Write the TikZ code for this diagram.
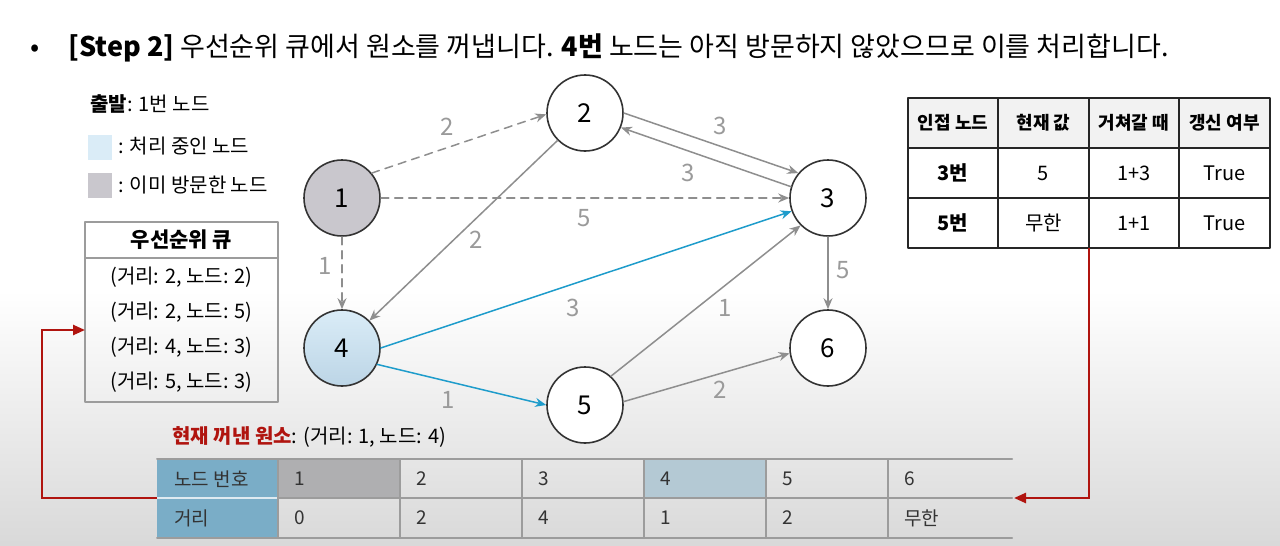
\documentclass[tikz,border=0pt]{standalone}
\usepackage{fontspec}
\setmainfont{Noto Sans CJK KR}
\usetikzlibrary{arrows.meta,positioning}
\definecolor{edgegray}{HTML}{8E8E8E}
\definecolor{labelgray}{HTML}{9A9A9A}
\definecolor{procblue}{HTML}{1E9CCB}
\definecolor{visitgray}{HTML}{C9C7CD}
\definecolor{nowblue}{HTML}{DAECF7}
\definecolor{nowblueb}{HTML}{BCD5E6}
\definecolor{hdrblue}{HTML}{7AADC7}
\definecolor{cellblue}{HTML}{B4C9D4}
\definecolor{cellgray}{HTML}{AFAFB1}
\definecolor{darkred}{HTML}{B0140F}
\definecolor{gridgray}{HTML}{9C9C9C}
\definecolor{textgray}{HTML}{333333}
\begin{document}
\begin{tikzpicture}[
    x=0.5pt, y=-0.5pt,
    line cap=round,
    line join=round,
    vertex/.style={circle, draw=black!80, fill=white, line width=0.8pt, minimum size=38pt, inner sep=0pt, font=\fontsize{13}{13}\selectfont},
    edge/.style={draw=edgegray, line width=0.75pt, -{Stealth[length=5.5pt,width=4.5pt]}},
    dashedge/.style={edge, dash pattern=on 4pt off 3pt},
    hotedge/.style={edge, draw=procblue},
    wlabel/.style={text=labelgray, inner sep=1pt, font=\fontsize{12}{12}\selectfont},
    small/.style={inner sep=1pt, font=\fontsize{10}{12}\selectfont},
    thead/.style={inner sep=1pt, font=\fontsize{9}{11}\selectfont\bfseries},
    tcell/.style={inner sep=1pt, font=\fontsize{10}{12}\selectfont},
    bcell/.style={anchor=west, inner sep=0pt, text=textgray, font=\fontsize{9.5}{11}\selectfont},
    back/.style={draw=darkred, line width=1.2pt, line cap=butt, line join=miter, -{Triangle[length=6pt,width=5pt]}}
]
\useasboundingbox (0,0) rectangle (1280,546);

% background
\fill[white] (0,0) rectangle (1280,546);
\shade[top color=white, bottom color=black!15] (0,290) rectangle (1280,546);

% title
\node[anchor=base west, inner sep=0pt, font=\fontsize{13.5}{15}\selectfont] (bullet) at (30,56) {•};
\node[anchor=base west, inner sep=0pt, font=\fontsize{13.5}{15}\selectfont] (title) at (68,56)
  {\textbf{[Step 2]} 우선순위 큐에서 원소를 꺼냅니다. \textbf{4번} 노드는 아직 방문하지 않았으므로 이를 처리합니다.};

% legend
\node[small, anchor=base west] (start) at (88,111) {\textbf{출발}: 1번 노드};
\fill[nowblue] (88,135) rectangle (112,160);
\node[small, anchor=base west] (lgnow) at (116,153) {: 처리 중인 노드};
\fill[visitgray] (88,173) rectangle (112,198);
\node[small, anchor=base west] (lgdone) at (116,192) {: 이미 방문한 노드};

% priority queue
\draw[draw=gridgray, line width=1pt] (85,222) rectangle (278,402);
\draw[draw=gridgray, line width=1pt] (85,258) -- (278,258);
\node[small, font=\fontsize{10.5}{12}\selectfont\bfseries] (qhead) at (181.5,240) {우선순위 큐};
\foreach \d/\v [count=\i] in {2/2, 2/5, 4/3, 5/3}
  \node[small] (q\i) at (181.5,{242+35*\i}) {(거리: \d, 노드: \v)};
\coordinate (qin) at (85,330);

% graph
\node[vertex, fill=visitgray] (n1) at (342,198) {1};
\node[vertex] (n2) at (585,113) {2};
\node[vertex] (n3) at (828,198) {3};
\node[vertex, top color=nowblue, bottom color=nowblueb] (n4) at (342,348) {4};
\node[vertex] (n5) at (585,405) {5};
\node[vertex] (n6) at (828,348) {6};

\draw[dashedge] (n1.40) -- (n2.182);
\draw[dashedge] (n1) -- (n3);
\draw[dashedge] (n1) -- (n4);
\draw[edge] (n2.east) -- (n3.140);
\draw[edge] (n3.163) -- (n2.-22);
\draw[edge] (n2.225) -- (n4.45);
\draw[edge] (n3) -- (n6);
\draw[hotedge] (n4.east) -- (n3.200);
\draw[hotedge] (n4.-25) -- (n5.west);
\draw[edge] (n5.48) -- (n3.225);
\draw[edge] (n5.5) -- (n6.188);

\node[wlabel] (w12) at (447,127) {2};
\node[wlabel] (w13) at (584,218) {5};
\node[wlabel] (w14) at (325,266) {1};
\node[wlabel] (w23) at (720,126) {3};
\node[wlabel] (w32) at (688,173) {3};
\node[wlabel] (w24) at (476,240) {2};
\node[wlabel] (w36) at (843,270) {5};
\node[wlabel] (w43) at (573,308) {3};
\node[wlabel] (w45) at (448,400) {1};
\node[wlabel] (w53) at (725,308) {1};
\node[wlabel] (w56) at (720,390) {2};

% adjacent node table
\fill[black!5] (908,98) rectangle (1270,148);
\draw[draw=black!85, line width=0.9pt] (908,98) rectangle (1270,248);
\foreach \y in {148,198}
  \draw[draw=black!85, line width=0.9pt] (908,\y) -- (1270,\y);
\foreach \x in {998,1089,1179}
  \draw[draw=black!85, line width=0.9pt] (\x,98) -- (\x,248);
\foreach \t [count=\i] in {인접 노드, 현재 값, 거쳐갈 때, 갱신 여부}
  \node[thead] (h\i) at ({862.5+90.5*\i},123) {\t};
\foreach \a/\b/\c/\d [count=\r] in {3번/5/1+3/True, 5번/무한/1+1/True} {
  \node[tcell, font=\fontsize{10}{12}\selectfont\bfseries] (r\r a) at (953,{123+50*\r}) {\a};
  \node[tcell] (r\r b) at (1043.5,{123+50*\r}) {\b};
  \node[tcell] (r\r c) at (1134,{123+50*\r}) {\c};
  \node[tcell] (r\r d) at (1224.5,{123+50*\r}) {\d};
}
\coordinate (adjout) at (1089,248);

% current element
\node[small, anchor=base west, font=\fontsize{10}{12}\selectfont] (cur) at (170,443)
  {\textcolor{darkred}{\textbf{현재 꺼낸 원소}}: (거리: 1, 노드: 4)};

% distance table
\fill[hdrblue] (157,459) rectangle (278,538);
\fill[cellgray] (278,459) rectangle (400,498);
\fill[cellblue] (644,459) rectangle (766,498);
\draw[draw=white!75!hdrblue, line width=0.8pt] (157,498) -- (278,498);
\foreach \y in {459,538}
  \draw[draw=gridgray, line width=1pt] (157,\y) -- (1012,\y);
\draw[draw=gridgray, line width=1pt] (278,498) -- (1012,498);
\foreach \x in {278,400,522,644,766,888}
  \draw[draw=gridgray, line width=1pt] (\x,459) -- (\x,538);
\node[bcell] (nn) at (174,479) {노드 번호};
\node[bcell] (dist) at (174,518) {거리};
\foreach \v/\d [count=\i from 0] in {1/0, 2/2, 3/4, 4/1, 5/2, 6/무한} {
  \node[bcell] (v\i) at ({294+122*\i},479) {\v};
  \node[bcell] (d\i) at ({294+122*\i},518) {\d};
}
\coordinate (tblL) at (157,498);
\coordinate (tblR) at (1014,498);

% red connectors
\draw[back] (tblL) -- ++(-115,0) |- (qin);
\draw[back] (adjout) |- (tblR);
\end{tikzpicture}
\end{document}
